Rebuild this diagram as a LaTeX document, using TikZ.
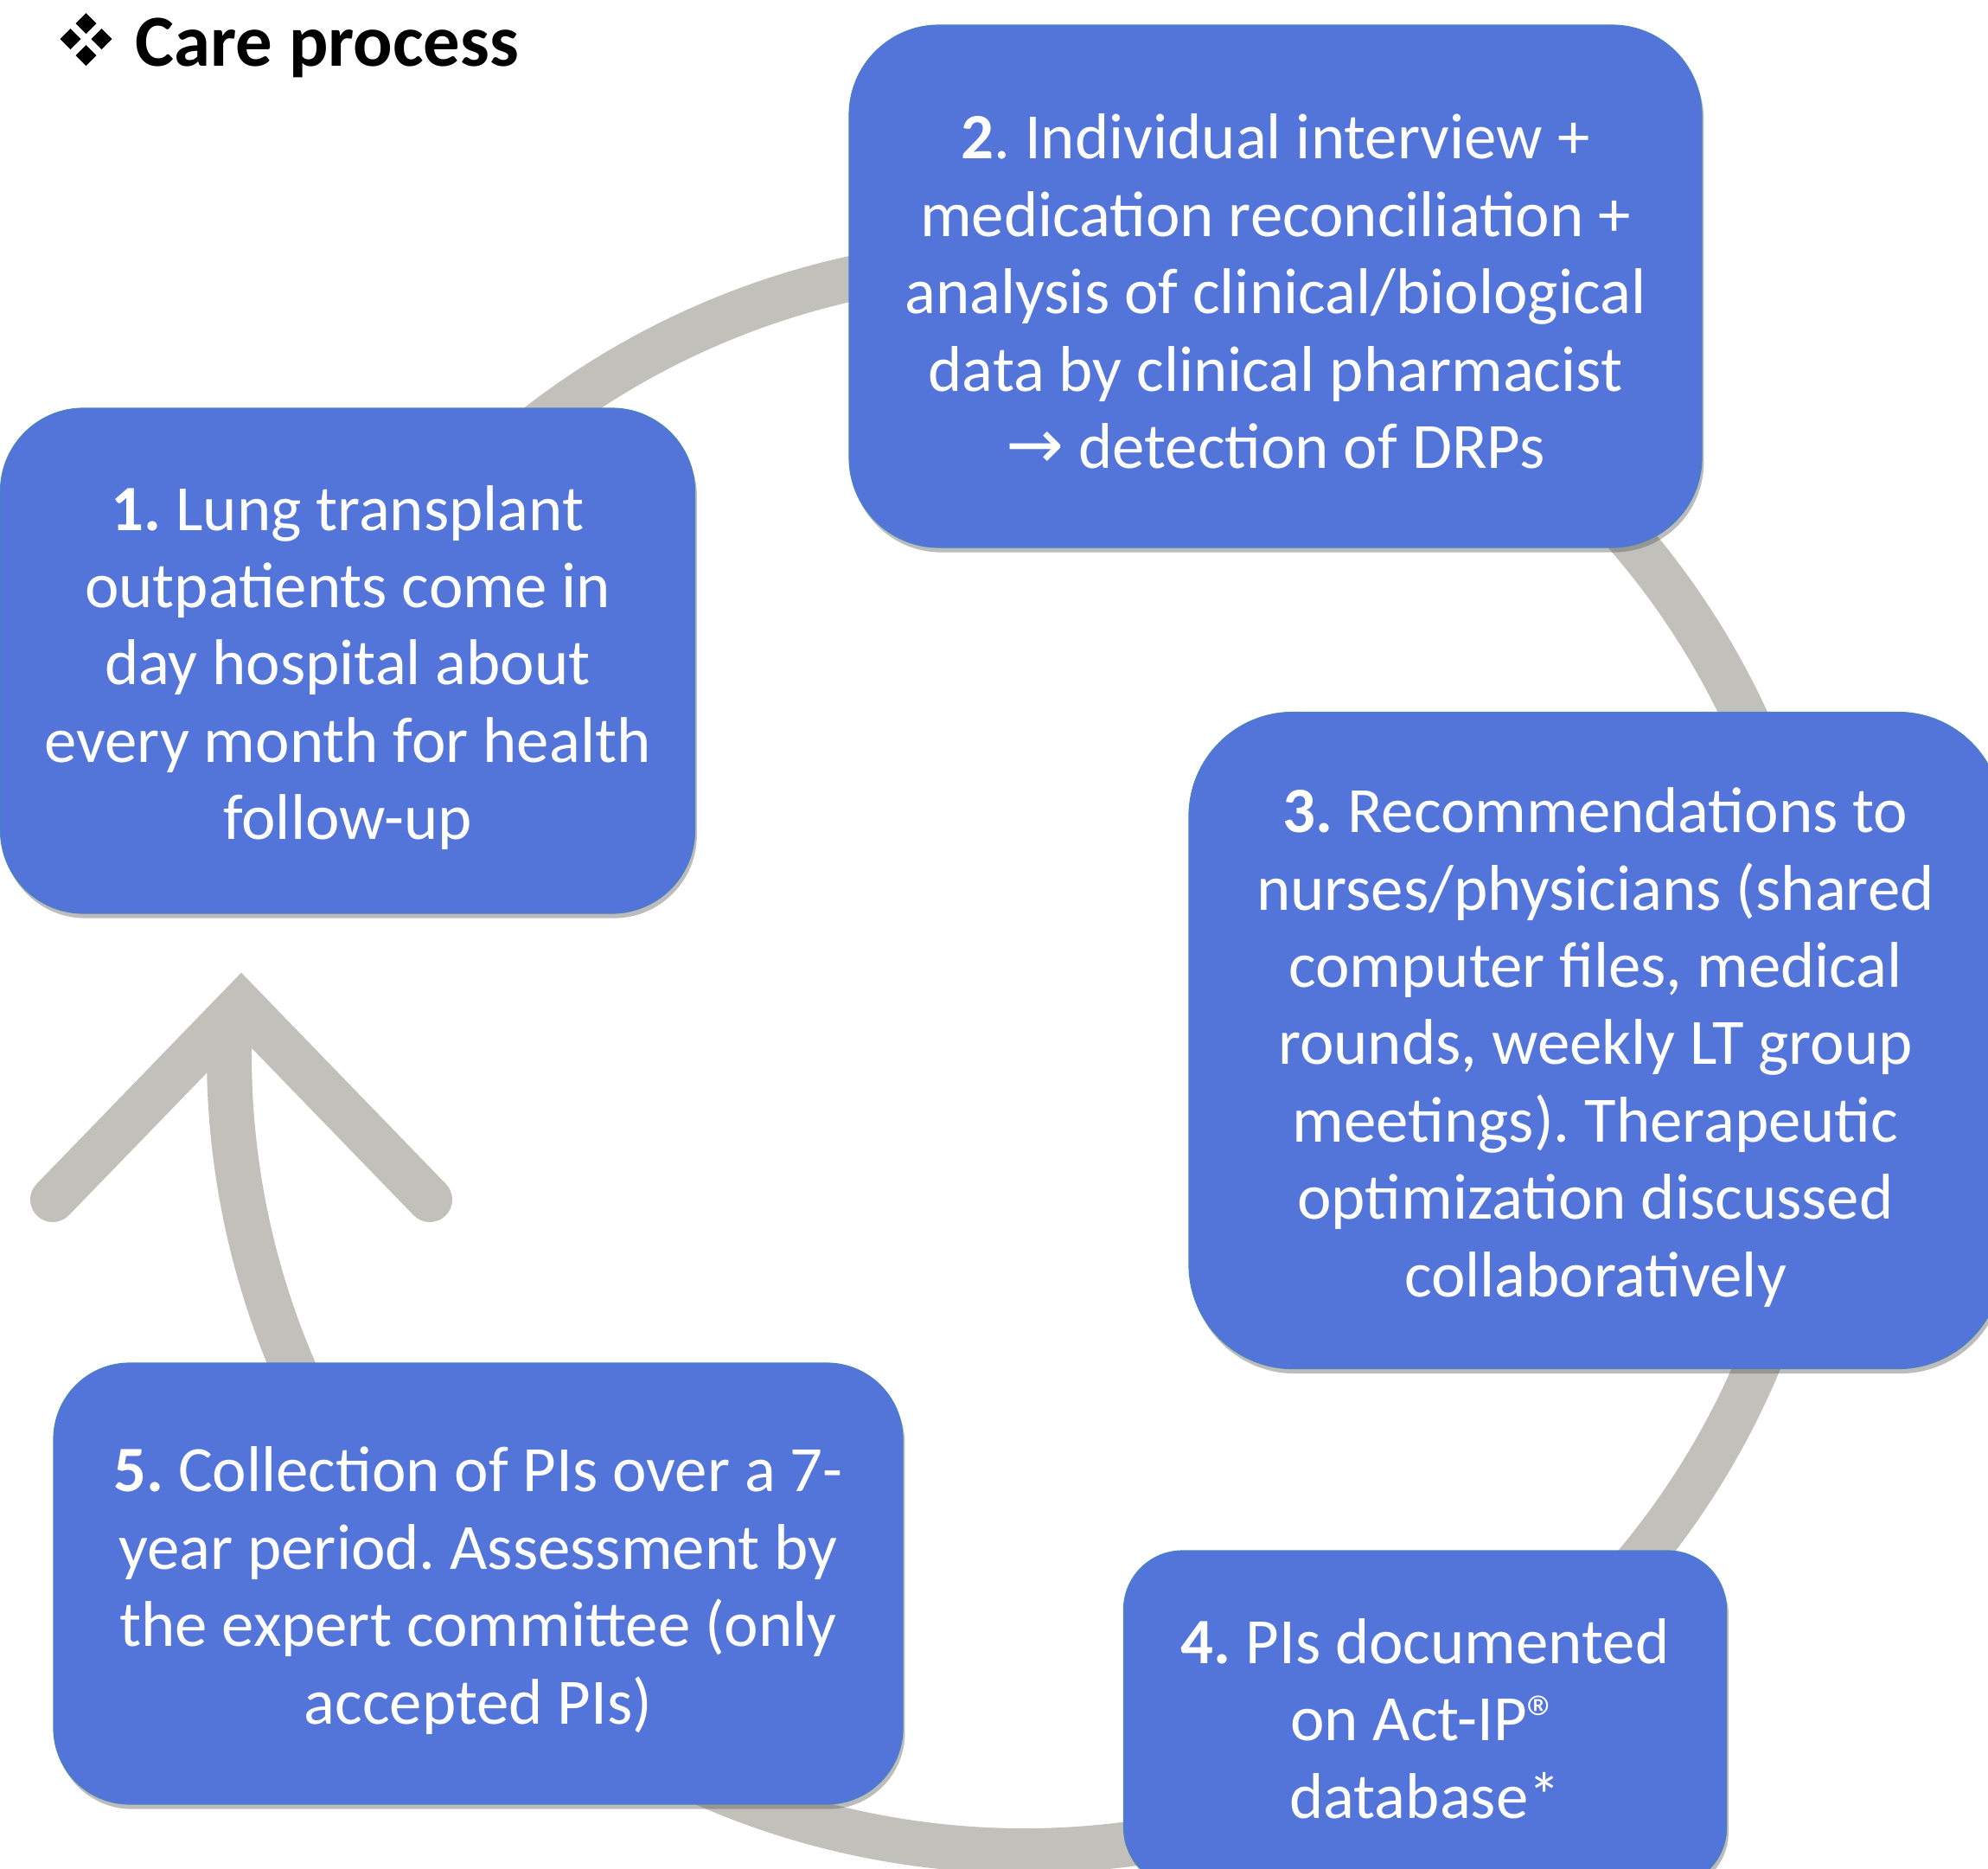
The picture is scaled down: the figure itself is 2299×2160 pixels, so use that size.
\documentclass[tikz,border=0pt]{standalone}
\usepackage{fontspec}
\setmainfont{Carlito}
\newfontfamily\arrowfont{DejaVu Sans}
\usetikzlibrary{shadows}
\definecolor{boxblue}{RGB}{83,116,216}
\definecolor{boxedge}{RGB}{75,130,190}
\definecolor{ringgray}{RGB}{194,192,186}
\frenchspacing
\begin{document}
\begin{tikzpicture}[x=0.5pt,y=-0.5pt,
  stepbox/.style={fill=boxblue, draw=boxedge, line width=0.6pt, inner sep=0pt,
    drop shadow={shadow xshift=1.2pt, shadow yshift=-2.8pt, opacity=0.4, fill=black!65}},
  steptext/.style={text=white, align=center, inner sep=0pt,
    font=\fontsize{37.4}{44.7}\selectfont},
  ring/.style={draw=ringgray, line width=26pt},
  bullet/.style={fill=black}
]
\clip (0,0) rectangle (2299,2160);
\fill[white] (0,0) rectangle (2299,2160);

% title
\foreach \cx/\cy in {99.5/27, 81.5/45, 117.5/45, 99.5/64}
  \fill[bullet] (\cx,\cy-12) -- (\cx+12,\cy) -- (\cx,\cy+12) -- (\cx-12,\cy) -- cycle;
\node[anchor=base west, inner sep=0pt, font=\fontsize{42.4}{50}\selectfont\bfseries] (title) at (156,76) {Care process};

% ring and arrow
\draw[ring] (1185,1220) ++(220:920) arc (220:542.5:920);
\draw[ring, line cap=round, line join=miter] (61,1387) -- (279,1162) -- (497,1387);

% boxes
\node[stepbox, minimum width=401.5pt, minimum height=292pt, rounded corners=48pt] (b1) at (402,764) {};
\node[steptext] (t1) at ([yshift=-4pt]b1.center)
  {\textbf{1.} Lung transplant\\ outpatients come in\\ day hospital about\\ every month for health\\ follow-up};

\node[stepbox, minimum width=493pt, minimum height=302pt, rounded corners=52pt] (b2) at (1475,331) {};
\node[steptext] (t2) at ([yshift=-3pt]b2.center)
  {\textbf{2}. Individual interview +\\ medication reconciliation +\\ analysis of clinical/biological\\ data by clinical pharmacist\\ {\arrowfont\fontsize{40}{44.7}\selectfont →} detection of DRPs};

\node[stepbox, minimum width=470pt, minimum height=379.5pt, rounded corners=60pt] (b3) at (1845,1203) {};
\node[steptext] (t3) at ([yshift=-4pt]b3.center)
  {\textbf{3.} Recommendations to\\ nurses/physicians (shared\\ computer files, medical\\ rounds, weekly LT group\\ meetings). Therapeutic\\ optimization discussed\\ collaboratively};

\node[stepbox, minimum width=348.5pt, minimum height=194pt, rounded corners=34pt] (b4) at (1648,1987) {};
\node[steptext] (t4) at ([yshift=0pt]b4.center)
  {\textbf{4.} PIs documented\\ on Act-IP®\\ database*};

\node[stepbox, minimum width=491pt, minimum height=255pt, rounded corners=44pt] (b5) at (553,1831) {};
\node[steptext] (t5) at ([yshift=-4pt]b5.center)
  {\textbf{5.} Collection of PIs over a 7-\\ year period. Assessment by\\ the expert committee (only\\ accepted PIs)};
\end{tikzpicture}
\end{document}
